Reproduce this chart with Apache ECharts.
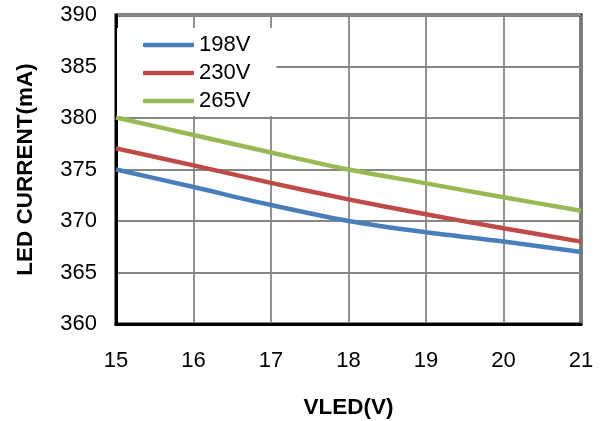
<!DOCTYPE html>
<html>
<head>
<meta charset="utf-8">
<script src="https://cdn.jsdelivr.net/npm/echarts@6/dist/echarts.min.js"></script>
<style>html,body{margin:0;padding:0;background:#fff}#c{width:600px;height:421px}</style>
</head>
<body>
<div id="c"></div>
<script>
const vled = [15, 16, 17, 18, 19, 20, 21];
const i198 = [375.0, 373.3, 371.55, 370.0, 368.9, 368.0, 367.0];
const i230 = [377.05, 375.4, 373.7, 372.1, 370.65, 369.3, 368.0];
const i265 = [380.05, 378.35, 376.65, 375.0, 373.65, 372.3, 371.0];
const seriesNames = ['198V', '230V', '265V'];
const colors = ['#4A7EBB', '#BE4B48', '#98B954'];

const chart = echarts.init(document.getElementById('c'));
const mk = (name, vals, color) => ({
  name, type: 'line', smooth: 0.3, symbol: 'none',
  data: vled.map((x, i) => [x, vals[i]]),
  lineStyle: { width: 4.5, color }, itemStyle: { color }
});
chart.setOption({
  animation: false,
  textStyle: { fontFamily: 'Liberation Sans, Arial, sans-serif' },
  grid: { left: 116, right: 19, top: 15, bottom: 97, show: true, borderColor: '#000', borderWidth: 3, backgroundColor: 'transparent', outerBoundsMode: 'none', containLabel: false },
  legend: {
    data: seriesNames, orient: 'vertical', left: 117, top: 28,
    backgroundColor: '#fff', padding: [6, 26, 4, 26], itemGap: 6,
    icon: 'roundRect', itemWidth: 51, itemHeight: 4.5,
    textStyle: { fontSize: 22, color: '#000', fontFamily: 'Liberation Sans, Arial, sans-serif' }
  },
  xAxis: {
    type: 'value', min: 15, max: 21, interval: 1,
    name: 'VLED(V)', nameLocation: 'middle', nameGap: 72,
    nameTextStyle: { fontSize: 22.5, fontWeight: 'bold', color: '#000' },
    axisLine: { show: true, lineStyle: { color: '#000', width: 3 } },
    axisTick: { show: false },
    axisLabel: { fontSize: 22, color: '#000', margin: 26 },
    splitLine: { show: true, lineStyle: { color: '#868686', width: 1.8 } }
  },
  yAxis: {
    type: 'value', min: 360, max: 390, interval: 5,
    name: 'LED CURRENT(mA)', nameLocation: 'middle', nameGap: 79,
    nameTextStyle: { fontSize: 22.5, fontWeight: 'bold', color: '#000' },
    axisLine: { show: true, lineStyle: { color: '#000', width: 3 } },
    axisTick: { show: false },
    axisLabel: { fontSize: 22, color: '#000', margin: 19 },
    splitLine: { show: true, lineStyle: { color: '#868686', width: 1.8 } }
  },
  series: [mk(seriesNames[0], i198, colors[0]), mk(seriesNames[1], i230, colors[1]), mk(seriesNames[2], i265, colors[2])]
});
</script>
</body>
</html>
